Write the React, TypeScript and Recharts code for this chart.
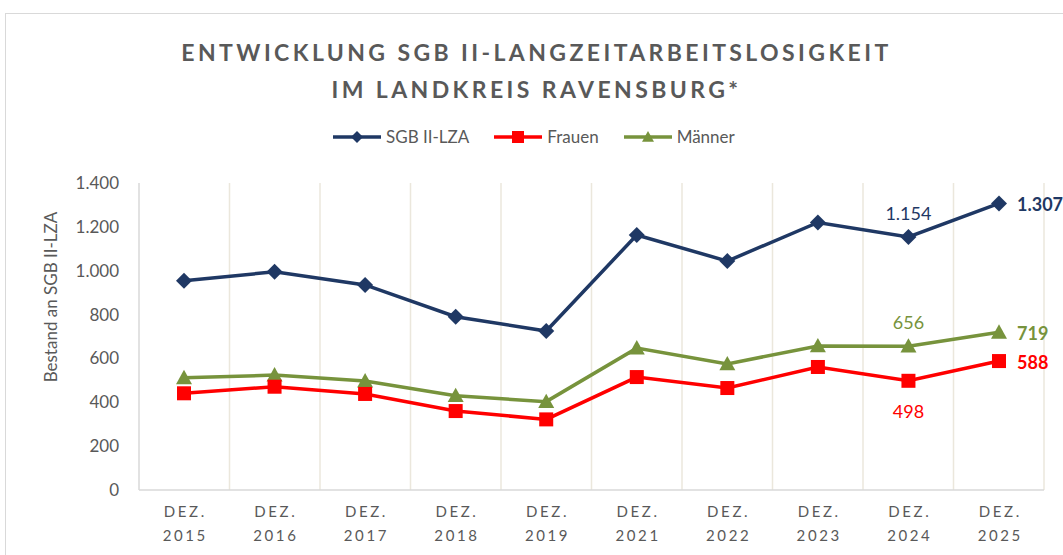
import React from 'react';
import { LineChart, Line, XAxis, YAxis, CartesianGrid, LabelList } from 'recharts';

// Werte (Dezember-Stichtage)
const categories = ['2015', '2016', '2017', '2018', '2019', '2021', '2022', '2023', '2024', '2025'];
const sgbLza = [954, 995, 935, 790, 725, 1163, 1044, 1220, 1154, 1307];
const frauen = [441, 471, 438, 360, 322, 515, 465, 561, 498, 588];
const maenner = [512, 524, 497, 430, 403, 647, 575, 657, 656, 719];
const yTicks = [0, 200, 400, 600, 800, 1000, 1200, 1400];

const NAVY = '#1F3864';
const RED = '#FF0000';
const GREEN = '#77933C';
const GREY = '#595959';

const data = categories.map((c, i) => ({
  year: c,
  sgb: sgbLza[i],
  frauen: frauen[i],
  maenner: maenner[i],
}));

const fmt = (v: number) => v.toLocaleString('de-DE');

const Diamond = ({ cx, cy, size = 8, fill }: any) => (
  <path d={`M${cx},${cy - size}L${cx + size},${cy}L${cx},${cy + size}L${cx - size},${cy}Z`} fill={fill} />
);
const Square = ({ cx, cy, size = 7, fill }: any) => (
  <rect x={cx - size} y={cy - size} width={size * 2} height={size * 2} fill={fill} />
);
const Triangle = ({ cx, cy, size = 8, fill }: any) => (
  <path d={`M${cx},${cy - size}L${cx + size},${cy + size * 0.8}L${cx - size},${cy + size * 0.8}Z`} fill={fill} />
);

const XTick = ({ x, y, payload }: any) => (
  <g transform={`translate(${x},${y})`}>
    <text textAnchor="middle" fill={GREY} fontSize={15} letterSpacing={2.6}>
      <tspan x={1.3} dy={25}>DEZ.</tspan>
      <tspan x={1.3} dy={24}>{payload.value}</tspan>
    </text>
  </g>
);

// Beschriftung: vorletzter Punkt ober-/unterhalb, letzter Punkt rechts (fett)
const makeLabel = (color: string, below: boolean) => (props: any) => {
  const { x, y, value, index } = props;
  if (index === categories.length - 2) {
    return (
      <text x={x} y={below ? y + 30 : y - 24} textAnchor="middle" dominantBaseline="central" fill={color} fontSize={18}>
        {fmt(value)}
      </text>
    );
  }
  if (index === categories.length - 1) {
    return (
      <text x={x + 18} y={y + 1} textAnchor="start" dominantBaseline="central" fill={color} fontSize={18} fontWeight="bold">
        {fmt(value)}
      </text>
    );
  }
  return null;
};

const LegendItem = ({ color, label, Shape }: any) => (
  <div style={{ display: 'flex', alignItems: 'center', marginRight: 24 }}>
    <svg width={50} height={18}>
      <line x1={1} y1={9} x2={49} y2={9} stroke={color} strokeWidth={3.5} />
      <Shape cx={25} cy={9} size={6} fill={color} />
    </svg>
    <span style={{ marginLeft: 4, fontSize: 17, color: GREY }}>{label}</span>
  </div>
);

const App: React.FC = () => {
  return (
    <div style={{ position: 'absolute', left: 0, top: 0, width: 1063, height: 555, background: '#fff', overflow: 'hidden', fontFamily: 'Lato, sans-serif' }}>
      <div style={{ position: 'absolute', left: 5, top: 13, width: 1100, height: 600, border: '1.5px solid #d9d9d9' }} />
      <div style={{ position: 'absolute', left: 0, top: 34, width: 1073, textAlign: 'center', color: GREY, fontSize: 23, fontWeight: 'bold', letterSpacing: 3.4, lineHeight: '37px' }}>
        ENTWICKLUNG SGB II-LANGZEITARBEITSLOSIGKEIT
        <br />
        IM LANDKREIS RAVENSBURG*
      </div>
      <div style={{ position: 'absolute', left: 332, top: 126, display: 'flex' }}>
        <LegendItem color={NAVY} label="SGB II-LZA" Shape={Diamond} />
        <LegendItem color={RED} label="Frauen" Shape={Square} />
        <LegendItem color={GREEN} label="Männer" Shape={Triangle} />
      </div>
      <div style={{ position: 'absolute', left: 0, top: 0 }}>
        <LineChart width={1063} height={555} data={data} margin={{ top: 183, right: 19, bottom: 5, left: 0 }}>
          <CartesianGrid
            horizontal={false}
            stroke="#ebe7dc"
            strokeWidth={1.5}
            verticalCoordinatesGenerator={({ offset }: any) =>
              categories.map((_, i) => offset.left + ((i + 1) * offset.width) / categories.length)
            }
          />
          <XAxis
            dataKey="year"
            height={60}
            tick={<XTick />}
            tickLine={false}
            tickSize={0}
            axisLine={{ stroke: '#d9d9d9', strokeWidth: 1.5 }}
            padding={{ left: 45, right: 45 }}
            interval={0}
          />
          <YAxis
            width={139}
            domain={[0, 1400]}
            ticks={yTicks}
            tickFormatter={fmt}
            tick={{ fill: GREY, fontSize: 17 }}
            tickLine={false}
            tickSize={0}
            tickMargin={20}
            axisLine={{ stroke: '#d9d9d9', strokeWidth: 1.5 }}
            label={({ viewBox }: any) => (
              <text
                x={viewBox.x + 50}
                y={297}
                transform={`rotate(-90, ${viewBox.x + 50}, 297)`}
                textAnchor="middle"
                dominantBaseline="central"
                fill={GREY}
                fontSize={17}
              >
                Bestand an SGB II-LZA
              </text>
            )}
          />
          <Line
            dataKey="sgb"
            stroke={NAVY}
            strokeWidth={3.5}
            isAnimationActive={false}
            dot={(p: any) => <Diamond key={`s${p.index}`} cx={p.cx} cy={p.cy} fill={NAVY} />}
          >
            <LabelList dataKey="sgb" content={makeLabel(NAVY, false)} />
          </Line>
          <Line
            dataKey="maenner"
            stroke={GREEN}
            strokeWidth={3.5}
            isAnimationActive={false}
            dot={(p: any) => <Triangle key={`m${p.index}`} cx={p.cx} cy={p.cy} fill={GREEN} />}
          >
            <LabelList dataKey="maenner" content={makeLabel(GREEN, false)} />
          </Line>
          <Line
            dataKey="frauen"
            stroke={RED}
            strokeWidth={3.5}
            isAnimationActive={false}
            dot={(p: any) => <Square key={`f${p.index}`} cx={p.cx} cy={p.cy} fill={RED} />}
          >
            <LabelList dataKey="frauen" content={makeLabel(RED, true)} />
          </Line>
        </LineChart>
      </div>
    </div>
  );
};

export default App;
